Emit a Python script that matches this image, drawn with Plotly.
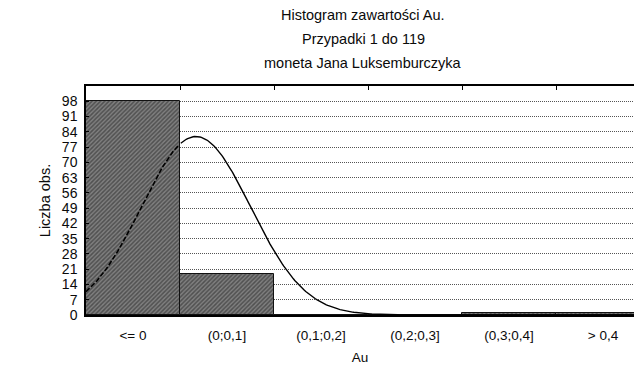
import numpy as np
import plotly.graph_objects as go

# Histogram of Au content (119 cases)
bin_labels = ["<= 0", "(0;0,1]", "(0,1;0,2]", "(0,2;0,3]", "(0,3;0,4]", "> 0,4"]
bin_left = [-0.1, 0.0, 0.1, 0.2, 0.3, 0.4]
counts = [98, 19, 0, 0, 1, 1]
bin_width = 0.1
n_cases = 119

# fitted normal distribution parameters
fit_mean = 0.017
fit_sd = 0.058

y_ticks = list(range(0, 99, 7))

centers = [b + bin_width / 2 for b in bin_left]
edges = bin_left + [bin_left[-1] + bin_width]

x_lo, x_hi = -0.1, -0.1 + 548 / 94 * 0.1

xs = np.linspace(x_lo, x_hi, 400)
ys = n_cases * bin_width / (fit_sd * np.sqrt(2 * np.pi)) * np.exp(-0.5 * ((xs - fit_mean) / fit_sd) ** 2)

fig = go.Figure()
fig.add_trace(go.Bar(
    x=centers, y=counts, width=bin_width,
    marker=dict(color="#6a6a6a", line=dict(color="#111", width=1),
                pattern=dict(shape="/", fgcolor="#202020", bgcolor="#808080", size=3, solidity=0.5)),
    showlegend=False, hoverinfo="skip",
))
inside = xs <= 0
fig.add_trace(go.Scatter(x=xs[inside], y=ys[inside], mode="lines",
                         line=dict(color="#000", width=1.6, dash="5px,2px"), showlegend=False))
fig.add_trace(go.Scatter(x=xs[~inside], y=ys[~inside], mode="lines",
                         line=dict(color="#000", width=1.4), showlegend=False))
# top frame axis with ticks at bin edges
fig.add_trace(go.Scatter(x=[x_lo], y=[0], xaxis="x2", mode="markers",
                         marker=dict(opacity=0), showlegend=False, hoverinfo="skip"))

font = "Liberation Sans, Arial, sans-serif"
L, T, B = 86, 86, 58
W, H = 634, 373
pw, ph = W - L, H - T - B

title_lines = ["Histogram zawartości Au.", "Przypadki 1 do 119", "moneta Jana Luksemburczyka"]
title_px_y = [15, 39, 63]

annotations = [
    dict(text=t, x=(363 - L) / pw, y=(H - py - B) / ph, xref="paper", yref="paper",
         xanchor="center", yanchor="middle", showarrow=False, font=dict(size=14.5))
    for t, py in zip(title_lines, title_px_y)
]

fig.update_layout(
    width=W, height=H,
    margin=dict(l=L, r=0, t=T, b=B),
    paper_bgcolor="white", plot_bgcolor="white",
    font=dict(family=font, color="#0a0a0a"),
    bargap=0,
    xaxis=dict(range=[x_lo, x_hi], tickvals=centers, ticktext=bin_labels,
               showgrid=False, zeroline=False, showline=True, linecolor="#000", linewidth=2,
               ticks="", tickfont=dict(size=13.5), ticklabelstandoff=7,
               title=dict(text="Au", font=dict(size=13.5), standoff=10)),
    xaxis2=dict(range=[x_lo, x_hi], overlaying="x", side="top", tickvals=edges[1:],
                ticks="inside", ticklen=4, tickcolor="#000", showticklabels=False,
                showgrid=False, zeroline=False, showline=True, linecolor="#000", linewidth=1.5),
    yaxis=dict(range=[0, 105], tickvals=y_ticks, showline=True, linecolor="#000", linewidth=1.5,
               ticks="inside", ticklen=3, tickcolor="#000", tickfont=dict(size=14),
               ticklabelstandoff=4,
               showgrid=True, gridcolor="#555", griddash="1px,1px", gridwidth=1, zeroline=False,
               title=dict(text="Liczba obs.", font=dict(size=14.5), standoff=8)),
    annotations=annotations,
)

fig.write_html("out.html")
